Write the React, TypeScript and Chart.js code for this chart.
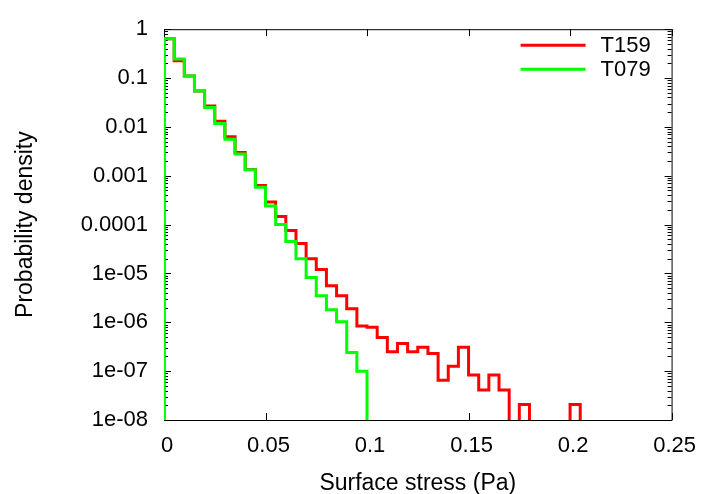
import React, { useEffect, useRef } from 'react';
import { Chart, registerables } from 'chart.js';

Chart.register(...registerables);

// ---------- data ----------
const BIN_WIDTH = 0.005; // histogram bin width (Pa), bins start at 0

const T159_LABEL = 'T159';
const T159_VALUES = [
  0.64, 0.226, 0.11, 0.054, 0.0267, 0.013, 0.0063, 0.003, 0.00135, 6.3e-4,
  2.9e-4, 1.47e-4, 7.6e-5, 4.1e-5, 2.0e-5, 1.2e-5, 5.6e-6, 3.5e-6, 1.9e-6, 8.4e-7,
  7.9e-7, 4.9e-7, 2.5e-7, 3.7e-7, 2.5e-7, 3.1e-7, 2.3e-7, 6.5e-8, 1.26e-7, 3.1e-7,
  8.3e-8, 4.1e-8, 8.3e-8, 4.1e-8, 0, 2.07e-8, 0, 0, 0, 0,
  2.07e-8,
];

const T079_LABEL = 'T079';
const T079_VALUES = [
  0.64, 0.245, 0.11, 0.054, 0.025, 0.0117, 0.0056, 0.0028, 0.00133, 5.8e-4,
  2.4e-4, 1.0e-4, 4.5e-5, 2.0e-5, 8.3e-6, 3.5e-6, 1.8e-6, 1.03e-6, 2.4e-7, 1.0e-7,
];

const X_TICKS = [0, 0.05, 0.1, 0.15, 0.2, 0.25];
const X_TICK_LABELS = ['0', '0.05', '0.1', '0.15', '0.2', '0.25'];
const Y_TICKS = [1e-8, 1e-7, 1e-6, 1e-5, 1e-4, 1e-3, 1e-2, 1e-1, 1];
const Y_TICK_LABELS = ['1e-08', '1e-07', '1e-06', '1e-05', '0.0001', '0.001', '0.01', '0.1', '1'];

const X_TITLE = 'Surface stress (Pa)';
const Y_TITLE = 'Probability density';

const X_MIN = 0;
const X_MAX = 0.25;
const Y_MIN = 1e-8;
const Y_MAX = 1;

// ---------- styling ----------
const FONT = '"Liberation Sans", Arial, Helvetica, sans-serif';
const FLOOR = 1e-12; // empty bins drop below the axis

function histPoints(values: number[]) {
  const pts: { x: number; y: number }[] = [{ x: 0, y: FLOOR }];
  values.forEach((v, i) => pts.push({ x: i * BIN_WIDTH, y: v > 0 ? v : FLOOR }));
  pts.push({ x: values.length * BIN_WIDTH, y: FLOOR });
  return pts;
}

const framePlugin = {
  id: 'gnuFrame',
  beforeDatasetsDraw(chart: any) {
    const { ctx, chartArea, scales } = chart;
    const { left, right, top, bottom } = chartArea;
    ctx.save();
    ctx.strokeStyle = '#000';
    ctx.lineWidth = 1;
    ctx.beginPath();
    ctx.rect(left + 0.5, top + 0.5, right - left, bottom - top);
    ctx.stroke();
    ctx.beginPath();
    const major = 7;
    const minor = 4;
    for (const v of X_TICKS) {
      const px = Math.round(scales.x.getPixelForValue(v)) + 0.5;
      ctx.moveTo(px, bottom);
      ctx.lineTo(px, bottom - major);
      ctx.moveTo(px, top);
      ctx.lineTo(px, top + major);
    }
    for (const v of Y_TICKS) {
      const py = Math.round(scales.y.getPixelForValue(v)) + 0.5;
      ctx.moveTo(left, py);
      ctx.lineTo(left + major, py);
      ctx.moveTo(right, py);
      ctx.lineTo(right - major, py);
      if (v < Y_MAX) {
        for (let m = 2; m <= 9; m++) {
          const pm = Math.round(scales.y.getPixelForValue(v * m)) + 0.5;
          ctx.moveTo(left, pm);
          ctx.lineTo(left + minor, pm);
          ctx.moveTo(right, pm);
          ctx.lineTo(right - minor, pm);
        }
      }
    }
    ctx.stroke();
    ctx.restore();
  },
};

const legendPlugin = {
  id: 'gnuLegend',
  afterDatasetsDraw(chart: any) {
    const { ctx, chartArea } = chart;
    const x0 = chartArea.right - 151;
    const x1 = chartArea.right - 86;
    const tx = chartArea.right - 71;
    let y = chartArea.top + 16;
    ctx.save();
    ctx.font = `22px ${FONT}`;
    ctx.textBaseline = 'middle';
    ctx.textAlign = 'left';
    chart.data.datasets.forEach((ds: any) => {
      ctx.strokeStyle = ds.borderColor;
      ctx.lineWidth = 3;
      ctx.beginPath();
      ctx.moveTo(x0, y);
      ctx.lineTo(x1, y);
      ctx.stroke();
      ctx.fillStyle = '#000';
      ctx.fillText(ds.label, tx, y + 1);
      y += 24;
    });
    ctx.restore();
  },
};

export default function App() {
  const canvasRef = useRef<HTMLCanvasElement | null>(null);

  useEffect(() => {
    const canvas = canvasRef.current;
    if (!canvas) return;
    const chart = new Chart(canvas, {
      type: 'line',
      data: {
        datasets: [
          {
            label: T159_LABEL,
            data: histPoints(T159_VALUES),
            borderColor: '#ff0000',
            borderWidth: 3,
            pointRadius: 0,
            stepped: 'before',
            fill: false,
            order: 1,
          },
          {
            label: T079_LABEL,
            data: histPoints(T079_VALUES),
            borderColor: '#00ff00',
            borderWidth: 3,
            pointRadius: 0,
            stepped: 'before',
            fill: false,
            order: 0,
          },
        ],
      },
      options: {
        animation: false,
        responsive: false,
        maintainAspectRatio: false,
        events: [],
        layout: { padding: { left: 0, right: 28, top: 20, bottom: 0 } },
        plugins: {
          legend: { display: false },
          tooltip: { enabled: false },
        },
        scales: {
          x: {
            type: 'linear',
            min: X_MIN,
            max: X_MAX,
            grid: { display: false, drawTicks: false },
            border: { display: false },
            ticks: {
              autoSkip: false,
              maxRotation: 0,
              padding: 13,
              labelOffset: 3,
              color: '#000',
              font: { family: FONT, size: 22 },
              callback: (_v: any, i: number) => X_TICK_LABELS[i],
            },
            afterBuildTicks: (s: any) => {
              s.ticks = X_TICKS.map((v) => ({ value: v }));
            },
            afterFit: (s: any) => {
              s.height = 74;
            },
            title: {
              display: true,
              text: X_TITLE,
              color: '#000',
              font: { family: FONT, size: 23 },
              padding: { top: 0, bottom: -3 },
            },
          },
          y: {
            type: 'logarithmic',
            min: Y_MIN,
            max: Y_MAX,
            grid: { display: false, drawTicks: false },
            border: { display: false },
            ticks: {
              autoSkip: false,
              padding: 16,
              color: '#000',
              font: { family: FONT, size: 22 },
              callback: (_v: any, i: number) => Y_TICK_LABELS[i],
            },
            afterBuildTicks: (s: any) => {
              s.ticks = Y_TICKS.map((v) => ({ value: v }));
            },
            afterFit: (s: any) => {
              s.width = 164;
            },
            title: {
              display: true,
              text: Y_TITLE,
              color: '#000',
              font: { family: FONT, size: 23 },
              padding: { top: 12, bottom: 0 },
            },
          },
        },
      } as any,
      plugins: [framePlugin, legendPlugin],
    });
    return () => chart.destroy();
  }, []);

  return (
    <div style={{ position: 'absolute', left: 0, top: 0, width: 706, height: 494, background: '#fff' }}>
      <canvas ref={canvasRef} width={706} height={494} style={{ display: 'block', width: 706, height: 494 }} />
    </div>
  );
}
